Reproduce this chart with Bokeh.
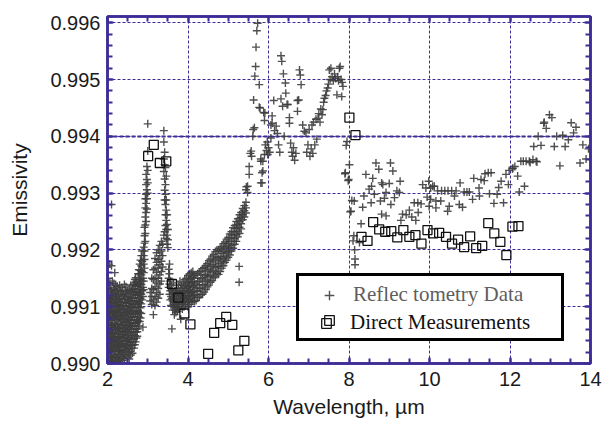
from bokeh.plotting import figure
from bokeh.models import (Range1d, FixedTicker, PrintfTickFormatter, LinearAxis, Grid,
                          Legend, LegendItem, ColumnDataSource)
from bokeh.embed import file_html
from bokeh.resources import INLINE

# ---------------- data ----------------
x_ticks = [2, 4, 6, 8, 10, 12, 14]
y_ticks = [0.990, 0.991, 0.992, 0.993, 0.994, 0.995, 0.996]
bold_y_grid = [0.994]
series_labels = ["Reflec tometry Data", "Direct Measurements"]

# Reflectometry data. Dense parts as columns {wavelength: [emissivities]}
refl_cloud_cols = {
    2.00: [0.99170, 0.99132, 0.99118, 0.99101, 0.99085, 0.99068, 0.99052, 0.99034, 0.99018, 0.99004],
    2.02: [0.99150, 0.99125, 0.99110, 0.99092, 0.99077, 0.99061, 0.99044, 0.99026, 0.99010],
    2.04: [0.99175, 0.99138, 0.99115, 0.99102, 0.99088, 0.99072, 0.99056, 0.99041, 0.99022, 0.99006],
    2.06: [0.99142, 0.99120, 0.99105, 0.99094, 0.99080, 0.99063, 0.99048, 0.99030, 0.99014],
    2.08: [0.99130, 0.99111, 0.99097, 0.99083, 0.99067, 0.99052, 0.99036, 0.99021, 0.99003],
    2.10: [0.99280, 0.99172, 0.99128, 0.99114, 0.99098, 0.99076, 0.99063, 0.99045, 0.99031, 0.99012],
    2.12: [0.99145, 0.99121, 0.99107, 0.99090, 0.99069, 0.99054, 0.99040, 0.99024, 0.99006],
    2.14: [0.99133, 0.99116, 0.99092, 0.99082, 0.99060, 0.99043, 0.99028, 0.99012],
    2.16: [0.99141, 0.99124, 0.99108, 0.99087, 0.99071, 0.99054, 0.99038, 0.99024, 0.99004],
    2.18: [0.99160, 0.99129, 0.99102, 0.99091, 0.99079, 0.99064, 0.99047, 0.99033, 0.99015],
    2.20: [0.99138, 0.99119, 0.99105, 0.99084, 0.99068, 0.99052, 0.99037, 0.99021, 0.99003],
    2.22: [0.99126, 0.99112, 0.99093, 0.99077, 0.99058, 0.99041, 0.99027, 0.99011],
    2.24: [0.99136, 0.99118, 0.99100, 0.99083, 0.99066, 0.99048, 0.99032, 0.99016],
    2.26: [0.99131, 0.99110, 0.99095, 0.99079, 0.99061, 0.99045, 0.99029, 0.99008],
    2.28: [0.99122, 0.99104, 0.99088, 0.99070, 0.99056, 0.99038, 0.99022, 0.99004],
    2.30: [0.99138, 0.99113, 0.99098, 0.99082, 0.99062, 0.99047, 0.99031, 0.99015],
    2.32: [0.99127, 0.99108, 0.99090, 0.99075, 0.99057, 0.99041, 0.99024, 0.99007],
    2.34: [0.99122, 0.99102, 0.99085, 0.99068, 0.99051, 0.99035, 0.99019],
    2.36: [0.99134, 0.99115, 0.99096, 0.99079, 0.99063, 0.99046, 0.99030, 0.99012],
    2.38: [0.99129, 0.99108, 0.99090, 0.99074, 0.99056, 0.99040, 0.99023, 0.99005],
    2.40: [0.99120, 0.99101, 0.99085, 0.99067, 0.99051, 0.99034, 0.99016],
    2.42: [0.99139, 0.99113, 0.99094, 0.99078, 0.99061, 0.99045, 0.99028, 0.99009],
    2.44: [0.99126, 0.99107, 0.99089, 0.99072, 0.99055, 0.99039, 0.99021],
    2.46: [0.99135, 0.99118, 0.99100, 0.99083, 0.99066, 0.99049, 0.99032, 0.99014],
    2.48: [0.99123, 0.99106, 0.99091, 0.99074, 0.99058, 0.99041, 0.99025],
    2.50: [0.99128, 0.99112, 0.99096, 0.99080, 0.99063, 0.99046, 0.99030, 0.99011],
    2.52: [0.99118, 0.99102, 0.99086, 0.99069, 0.99052, 0.99036, 0.99019],
    2.54: [0.99131, 0.99110, 0.99093, 0.99076, 0.99060, 0.99043, 0.99026, 0.99008],
    2.56: [0.99124, 0.99106, 0.99089, 0.99072, 0.99055, 0.99038, 0.99021],
    2.58: [0.99138, 0.99116, 0.99099, 0.99082, 0.99066, 0.99049, 0.99032, 0.99015],
    2.60: [0.99128, 0.99110, 0.99093, 0.99077, 0.99060, 0.99043, 0.99027],
    2.62: [0.99131, 0.99115, 0.99099, 0.99083, 0.99066, 0.99050, 0.99033, 0.99018],
    2.64: [0.99139, 0.99121, 0.99104, 0.99088, 0.99071, 0.99055, 0.99038],
    2.66: [0.99142, 0.99126, 0.99110, 0.99093, 0.99077, 0.99060, 0.99044, 0.99027],
    2.68: [0.99148, 0.99131, 0.99115, 0.99098, 0.99082, 0.99066, 0.99049, 0.99033],
    2.70: [0.99151, 0.99136, 0.99120, 0.99104, 0.99088, 0.99071, 0.99055, 0.99038],
    2.72: [0.99144, 0.99126, 0.99110, 0.99093, 0.99077, 0.99061, 0.99045],
    2.74: [0.99137, 0.99121, 0.99105, 0.99088, 0.99072, 0.99056, 0.99048],
    2.76: [0.99158, 0.99140, 0.99124, 0.99108, 0.99091, 0.99075, 0.99061],
    2.78: [0.99165, 0.99148, 0.99131, 0.99115, 0.99099, 0.99082, 0.99066],
    2.80: [0.99175, 0.99158, 0.99140, 0.99124, 0.99107, 0.99090, 0.99074],
    2.82: [0.99182, 0.99164, 0.99148, 0.99131, 0.99115, 0.99098, 0.99080],
    2.84: [0.99190, 0.99172, 0.99156, 0.99139, 0.99122, 0.99105, 0.99088],
    2.86: [0.99198, 0.99180, 0.99162, 0.99145, 0.99128, 0.99112],
    2.88: [0.99150, 0.99134, 0.99118, 0.99064],
}
refl_lobes_cols = {
    2.90: [0.99205, 0.99190, 0.99175, 0.99160, 0.99145, 0.99130],
    2.92: [0.99240, 0.99225, 0.99212, 0.99198, 0.99183, 0.99168],
    2.94: [0.99290, 0.99274, 0.99258, 0.99244, 0.99229, 0.99215],
    2.96: [0.99333, 0.99315, 0.99298, 0.99282, 0.99266, 0.99250],
    2.98: [0.99347, 0.99324, 0.99306, 0.99290, 0.99272],
    3.00: [0.99422, 0.99374, 0.99340, 0.99318, 0.99300],
    3.06: [0.99125, 0.99110],
    3.10: [0.99150, 0.99132, 0.99118, 0.99104],
    3.14: [0.99165, 0.99148, 0.99130, 0.99112, 0.99086],
    3.18: [0.99185, 0.99168, 0.99150, 0.99135, 0.99118, 0.99102],
    3.22: [0.99195, 0.99178, 0.99160, 0.99142, 0.99125, 0.99108],
    3.26: [0.99200, 0.99183, 0.99168, 0.99150, 0.99132, 0.99115],
    3.30: [0.99208, 0.99190, 0.99174, 0.99156, 0.99140, 0.99122],
    3.34: [0.99215, 0.99198, 0.99180, 0.99162, 0.99145],
    3.37: [0.99210, 0.99190, 0.99170],
    3.40: [0.99410, 0.99390, 0.99360, 0.99338, 0.99226],
    3.42: [0.99372, 0.99350, 0.99325, 0.99305, 0.99288, 0.99232],
    3.44: [0.99345, 0.99315, 0.99298, 0.99280, 0.99262, 0.99243],
    3.46: [0.99330, 0.99288, 0.99270, 0.99252, 0.99236, 0.99220],
    3.48: [0.99262, 0.99245, 0.99226, 0.99210],
    3.50: [0.99236, 0.99218, 0.99204],
}
refl_dip_cols = {
    3.52: [0.99166, 0.99150, 0.99134], 3.54: [0.99175, 0.99158, 0.99140, 0.99122],
    3.56: [0.99145, 0.99128, 0.99112], 3.58: [0.99138, 0.99118, 0.99102],
    3.60: [0.99131, 0.99114, 0.99061], 3.62: [0.99125, 0.99110, 0.99094],
    3.64: [0.99142, 0.99122, 0.99104], 3.66: [0.99115, 0.99100, 0.99086],
    3.68: [0.99128, 0.99108, 0.99094], 3.70: [0.99120, 0.99104, 0.99090],
    3.72: [0.99132, 0.99114, 0.99098], 3.74: [0.99125, 0.99108, 0.99092],
    3.76: [0.99138, 0.99118, 0.99100], 3.78: [0.99128, 0.99112, 0.99096],
    3.80: [0.99145, 0.99122, 0.99105], 3.82: [0.99132, 0.99115, 0.99078],
    3.84: [0.99138, 0.99120, 0.99104], 3.86: [0.99128, 0.99110, 0.99096],
    3.88: [0.99142, 0.99124, 0.99108], 3.90: [0.99135, 0.99116, 0.99100],
    3.92: [0.99148, 0.99128, 0.99110], 3.94: [0.99138, 0.99120, 0.99104],
    3.96: [0.99150, 0.99132, 0.99114], 3.98: [0.99142, 0.99125, 0.99108],
    4.00: [0.99155, 0.99135, 0.99118, 0.99100], 4.02: [0.99145, 0.99128, 0.99112],
    4.04: [0.99158, 0.99138, 0.99120, 0.99104], 4.06: [0.99148, 0.99130, 0.99114],
    4.08: [0.99160, 0.99142, 0.99124, 0.99108], 4.10: [0.99152, 0.99134, 0.99118],
    4.12: [0.99162, 0.99144, 0.99126, 0.99110], 4.14: [0.99155, 0.99137, 0.99120],
}
refl_rise_cols = {
    4.16: [0.99150, 0.99137, 0.99121, 0.99109], 4.20: [0.99156, 0.99140, 0.99127, 0.99111],
    4.24: [0.99158, 0.99144, 0.99128, 0.99116], 4.28: [0.99161, 0.99145, 0.99132, 0.99117],
    4.32: [0.99163, 0.99149, 0.99133, 0.99121], 4.36: [0.99167, 0.99151, 0.99138, 0.99122],
    4.40: [0.99169, 0.99155, 0.99139, 0.99126], 4.44: [0.99172, 0.99157, 0.99145, 0.99130],
    4.48: [0.99176, 0.99163, 0.99147, 0.99135], 4.52: [0.99181, 0.99166, 0.99153, 0.99138],
    4.56: [0.99184, 0.99171, 0.99155, 0.99143], 4.60: [0.99189, 0.99174, 0.99161, 0.99146],
    4.64: [0.99192, 0.99179, 0.99163, 0.99151], 4.68: [0.99197, 0.99182, 0.99169, 0.99154],
    4.72: [0.99200, 0.99187, 0.99171, 0.99159], 4.76: [0.99199, 0.99184, 0.99171, 0.99157],
    4.80: [0.99203, 0.99188, 0.99176, 0.99162], 4.84: [0.99206, 0.99194, 0.99180, 0.99168],
    4.88: [0.99211, 0.99197, 0.99185, 0.99172], 4.92: [0.99214, 0.99203, 0.99189, 0.99178],
    4.96: [0.99219, 0.99206, 0.99195, 0.99182], 5.00: [0.99222, 0.99211, 0.99198, 0.99187],
    5.04: [0.99228, 0.99215, 0.99204, 0.99191], 5.08: [0.99232, 0.99221, 0.99208, 0.99198],
    5.12: [0.99239, 0.99226, 0.99215, 0.99203], 5.16: [0.99243, 0.99232, 0.99220, 0.99210],
    5.20: [0.99250, 0.99238, 0.99227, 0.99215], 5.24: [0.99255, 0.99245, 0.99233, 0.99223],
    5.27: [0.99171, 0.99143], 5.28: [0.99262, 0.99250, 0.99240, 0.99229],
    5.32: [0.99266, 0.99257, 0.99246, 0.99237], 5.36: [0.99273, 0.99262, 0.99253],
    5.40: [0.99278, 0.99269, 0.99258], 5.44: [0.99284, 0.99274, 0.99265],
}
refl_spike = [
    (5.44,0.99306),(5.45,0.99311),(5.48,0.99301),(5.48,0.99312),(5.52,0.99333),(5.52,0.99347),
    (5.55,0.99370),(5.57,0.99374),(5.58,0.99365),(5.61,0.99400),(5.62,0.99412),(5.63,0.99464),
    (5.65,0.99415),(5.66,0.99506),(5.68,0.99523),(5.69,0.99557),(5.71,0.99586),(5.73,0.99599),
    (5.77,0.99491),(5.77,0.99451),(5.79,0.99450),(5.81,0.99356),(5.81,0.99318),(5.84,0.99318),
    (5.84,0.99336),(5.86,0.99339),(5.86,0.99356),(5.88,0.99442),(5.90,0.99428),(5.91,0.99441),
    (5.98,0.99368),(5.81,0.99360),
]
refl_hump = [
    (5.90,0.99368),(5.92,0.99385),(5.95,0.99375),(5.97,0.99390),(6.00,0.99380),(6.03,0.99372),
    (6.06,0.99397),(6.06,0.99420),(6.09,0.99436),(6.09,0.99423),(6.13,0.99463),(6.15,0.99410),
    (6.19,0.99418),(6.22,0.99405),(6.25,0.99385),(6.28,0.99372),(6.31,0.99542),(6.31,0.99466),
    (6.33,0.99532),(6.35,0.99453),(6.37,0.99510),(6.39,0.99400),(6.42,0.99494),(6.43,0.99476),
    (6.46,0.99456),(6.48,0.99456),(6.52,0.99433),(6.52,0.99423),(6.55,0.99388),(6.58,0.99372),
    (6.60,0.99365),(6.62,0.99380),(6.65,0.99358),(6.68,0.99370),(6.72,0.99463),(6.72,0.99444),
    (6.75,0.99464),(6.77,0.99517),(6.79,0.99508),(6.81,0.99491),(6.85,0.99420),(6.89,0.99409),
    (6.93,0.99406),(6.95,0.99372),(6.98,0.99385),(7.01,0.99412),(7.03,0.99365),(7.06,0.99378),
    (7.08,0.99420),(7.10,0.99370),(7.12,0.99425),(7.15,0.99385),(7.18,0.99430),(7.20,0.99395),
    (7.23,0.99432),(7.25,0.99440),(7.28,0.99425),(7.30,0.99448),(7.33,0.99438),(7.35,0.99447),
    (7.37,0.99460),(7.39,0.99467),(7.42,0.99472),(7.44,0.99480),(7.47,0.99485),(7.49,0.99492),
    (7.51,0.99517),(7.53,0.99500),(7.55,0.99520),(7.58,0.99505),(7.61,0.99498),(7.64,0.99510),
    (7.67,0.99502),(7.70,0.99473),(7.72,0.99505),(7.74,0.99498),(7.76,0.99520),(7.78,0.99523),
    (7.80,0.99500),(7.83,0.99495),(7.85,0.99488),(7.82,0.99470),
]
refl_drop = [
    (7.90,0.99334),(7.91,0.99336),(7.93,0.99384),(7.95,0.99391),(7.98,0.99322),(7.99,0.99324),
    (8.01,0.99350),(8.03,0.99267),(8.05,0.99268),(8.07,0.99287),(8.10,0.99216),(8.12,0.99225),
    (8.13,0.99286),(8.15,0.99184),(8.15,0.99174),(8.14,0.99200),
]
refl_plateau = [
    (8.26,0.99213),(8.30,0.99246),(8.34,0.99275),(8.37,0.99295),(8.42,0.99333),(8.50,0.99307),
    (8.55,0.99283),(8.56,0.99312),(8.59,0.99326),(8.63,0.99298),(8.67,0.99353),(8.74,0.99342),
    (8.78,0.99286),(8.81,0.99318),(8.81,0.99263),(8.84,0.99315),(8.88,0.99291),(8.92,0.99301),
    (8.92,0.99260),(9.00,0.99317),(9.03,0.99353),(9.04,0.99280),(9.09,0.99339),(9.13,0.99292),
    (9.19,0.99304),(9.25,0.99301),(9.27,0.99321),(9.29,0.99252),(9.33,0.99263),(9.42,0.99262),
    (9.50,0.99270),(9.56,0.99258),(9.62,0.99283),(9.66,0.99252),(9.71,0.99283),(9.72,0.99266),
    (9.79,0.99281),(9.83,0.99315),(9.91,0.99309),(9.94,0.99293),(9.98,0.99321),(9.99,0.99277),
    (10.03,0.99309),(10.03,0.99289),(10.08,0.99312),(10.12,0.99312),(10.16,0.99286),(10.16,0.99274),
    (10.20,0.99304),(10.28,0.99286),(10.30,0.99304),(10.38,0.99304),(10.45,0.99268),(10.46,0.99304),
    (10.49,0.99277),(10.55,0.99304),(10.62,0.99295),(10.66,0.99304),(10.74,0.99280),(10.76,0.99318),
    (10.82,0.99275),(10.86,0.99302),(10.93,0.99302),(10.99,0.99302),(11.07,0.99289),(11.10,0.99326),
    (11.23,0.99309),(11.24,0.99295),(11.28,0.99324),(11.36,0.99322),(11.38,0.99334),(11.46,0.99336),
    (11.49,0.99299),(11.53,0.99336),(11.60,0.99282),(11.68,0.99298),(11.72,0.99310),(11.78,0.99321),
    (11.84,0.99283),(11.90,0.99333),(11.96,0.99315),(11.98,0.99340),
]
refl_tail = [
    (12.06,0.99343),(12.07,0.99344),(12.12,0.99347),(12.19,0.99330),(12.23,0.99302),(12.27,0.99356),
    (12.33,0.99356),(12.36,0.99312),(12.40,0.99356),(12.48,0.99356),(12.50,0.99354),(12.57,0.99359),
    (12.59,0.99382),(12.65,0.99356),(12.67,0.99355),(12.70,0.99400),(12.77,0.99384),(12.84,0.99423),
    (12.85,0.99425),(12.90,0.99414),(12.98,0.99438),(13.04,0.99433),(13.10,0.99382),(13.16,0.99400),
    (13.24,0.99348),(13.31,0.99402),(13.37,0.99382),(13.45,0.99394),(13.52,0.99424),(13.58,0.99406),
    (13.64,0.99416),(13.74,0.99353),(13.81,0.99385),(13.89,0.99360),(13.95,0.99378),
]

# Direct measurements
direct_x = [3.01, 3.15, 3.30, 3.46, 3.60, 3.76, 3.91, 4.06, 4.50, 4.65, 4.80, 4.95, 5.10, 5.25, 5.40,
            8.01, 8.16, 8.31, 8.46, 8.60, 8.75, 8.90, 9.05, 9.20, 9.35, 9.50, 9.65, 9.80, 9.95,
            10.09, 10.24, 10.41, 10.56, 10.71, 10.86, 11.01, 11.16, 11.31, 11.46, 11.61, 11.76,
            11.91, 12.06, 12.21]
direct_y = [0.99365, 0.99385, 0.99353, 0.99356, 0.99140, 0.99116, 0.99088, 0.99069, 0.99017,
            0.99054, 0.99071, 0.99082, 0.99068, 0.99023, 0.99040,
            0.99433, 0.99402, 0.99223, 0.99216, 0.99249, 0.99236, 0.99232, 0.99233, 0.99222,
            0.99235, 0.99223, 0.99226, 0.99211, 0.99235, 0.99229, 0.99230, 0.99223, 0.99211,
            0.99218, 0.99205, 0.99224, 0.99203, 0.99207, 0.99247, 0.99229, 0.99214, 0.99191,
            0.99241, 0.99242]

# ---------------- build ----------------
refl_x, refl_y = [], []
for cols in (refl_cloud_cols, refl_lobes_cols, refl_dip_cols, refl_rise_cols):
    for xv, ys in cols.items():
        refl_x.extend([xv] * len(ys))
        refl_y.extend(ys)
for reg in (refl_spike, refl_hump, refl_drop, refl_plateau, refl_tail):
    refl_x.extend(pt[0] for pt in reg)
    refl_y.extend(pt[1] for pt in reg)

NAVY = "#3c2d96"
FONT = "Liberation Sans"

p = figure(width=608, height=426, output_backend="svg", toolbar_location=None,
           x_range=Range1d(2, 14), y_range=Range1d(0.990, 0.99611),
           min_border_left=107, min_border_right=18, min_border_top=16, min_border_bottom=63)
p.background_fill_color = "white"
p.border_fill_color = "white"
p.outline_line_color = NAVY
p.outline_line_width = 2.5

# grids
p.xgrid.ticker = FixedTicker(ticks=x_ticks)
p.ygrid.ticker = FixedTicker(ticks=y_ticks)
for g in (p.xgrid, p.ygrid):
    g.grid_line_color = NAVY
    g.grid_line_dash = "3 2"
    g.grid_line_width = 1
p.add_layout(Grid(dimension=1, ticker=FixedTicker(ticks=bold_y_grid),
                  grid_line_color=NAVY, grid_line_dash="4 2", grid_line_width=2.2))

x_minor = [2 + 0.5 * i for i in range(25)]
y_minor = [0.990 + 0.0002 * i for i in range(31)]

def style_axis(ax, ticks, minor, labels=True):
    ax.ticker = FixedTicker(ticks=ticks, minor_ticks=minor)
    ax.axis_line_color = NAVY
    ax.axis_line_width = 2.5
    ax.major_tick_line_color = NAVY
    ax.minor_tick_line_color = NAVY
    ax.major_tick_line_width = 2
    ax.minor_tick_line_width = 2
    ax.major_tick_in = 6
    ax.major_tick_out = 0
    ax.minor_tick_in = 5
    ax.minor_tick_out = 0
    ax.major_label_text_font = FONT
    ax.major_label_text_font_size = "20px"
    ax.major_label_text_color = "#1a1a1a"
    ax.axis_label_text_font = FONT
    ax.axis_label_text_font_size = "21px"
    ax.axis_label_text_font_style = "normal"
    ax.axis_label_text_color = "#1a1a1a"
    if not labels:
        ax.major_label_text_color = None
        ax.major_label_text_font_size = "1px"
        ax.major_label_standoff = 0

p.xaxis.axis_label = "Wavelength, \u00b5m"
p.yaxis.axis_label = "Emissivity"
style_axis(p.xaxis[0], x_ticks, x_minor)
style_axis(p.yaxis[0], y_ticks, y_minor)
p.yaxis.formatter = PrintfTickFormatter(format="%.3f")
p.xaxis.major_label_standoff = 8
p.yaxis.major_label_standoff = 7
p.xaxis.axis_label_standoff = 6
p.yaxis.axis_label_standoff = 16

top = LinearAxis()
right = LinearAxis()
style_axis(top, x_ticks, x_minor, labels=False)
style_axis(right, y_ticks, y_minor, labels=False)
p.add_layout(top, "above")
p.add_layout(right, "right")

src_r = ColumnDataSource(dict(x=refl_x, y=refl_y))
src_d = ColumnDataSource(dict(x=direct_x, y=direct_y))
r1 = p.scatter("x", "y", source=src_r, marker="cross", size=8, line_width=1.4,
               line_color="#3d3d3d", line_alpha=0.9)
r2 = p.scatter("x", "y", source=src_d, marker="square", size=9, line_width=1.3,
               line_color="#111111", fill_color=None)

PAD = 6
common = dict(spacing=1, label_height=24, glyph_height=24, glyph_width=48,
              label_standoff=0, label_width=202, margin=0,
              label_text_font="Liberation Serif", label_text_font_size="21px")
leg_box = Legend(items=[LegendItem(label=series_labels[0], renderers=[r1]),
                        LegendItem(label=" ", renderers=[r2])],
                 location=(189, 22), padding=PAD, border_line_color="black",
                 border_line_width=3, border_line_alpha=1.0,
                 background_fill_color="white", background_fill_alpha=1.0,
                 label_text_color="#5e5e5e", **common)
# second row drawn in black (a legend without border has no padding)
leg_row2 = Legend(items=[LegendItem(label=series_labels[1], renderers=[r2])],
                  location=(189 + PAD, 22 + PAD), padding=PAD, border_line_color=None,
                  background_fill_alpha=0.0, label_text_color="#111111", **common)
p.add_layout(leg_box, "center")
p.add_layout(leg_row2, "center")

open("out.html", "w").write(file_html(p, INLINE))
